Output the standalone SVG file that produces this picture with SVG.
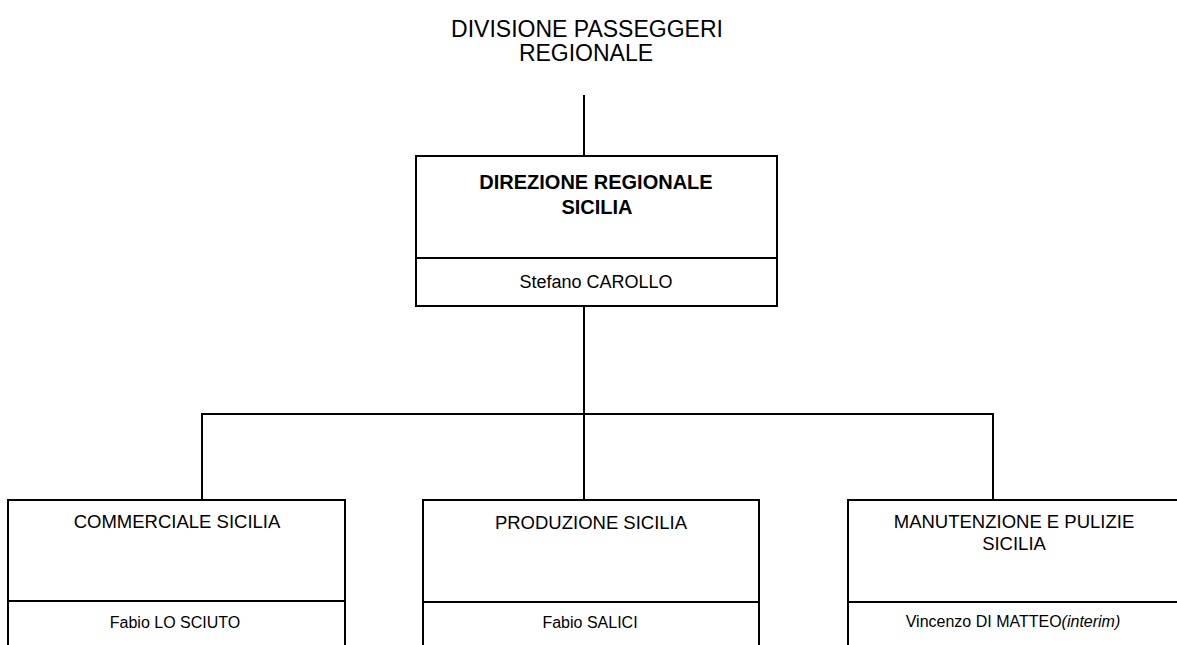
<svg xmlns="http://www.w3.org/2000/svg" width="1177" height="645" viewBox="0 0 1177 645">
<style>
.t{font-family:"Liberation Sans",Arial,sans-serif;fill:#000;text-anchor:middle}
.title{font-size:23px}
.h{font-size:18.5px}
.hb{font-size:20px;font-weight:bold}
.n{font-size:16px}
.nb{font-size:18px}
.box{fill:#fff;stroke:#000;stroke-width:2}
.ln{stroke:#000;stroke-width:2;fill:none}
</style>
<rect width="1177" height="645" fill="#fff"/>
<g id="title">
<text class="t title" x="587" y="36.5">DIVISIONE PASSEGGERI</text>
<text class="t title" x="586" y="61">REGIONALE</text>
</g>
<g id="connectors">
<line class="ln" x1="584" y1="95" x2="584" y2="156"/>
<line class="ln" x1="584" y1="306" x2="584" y2="414"/>
<line class="ln" x1="201" y1="414" x2="994" y2="414"/>
<line class="ln" x1="202" y1="414" x2="202" y2="500"/>
<line class="ln" x1="584" y1="414" x2="584" y2="500"/>
<line class="ln" x1="993" y1="414" x2="993" y2="500"/>
</g>
<g id="direzione">
<rect class="box" x="416" y="156" width="361" height="150"/>
<line class="ln" x1="416" y1="258" x2="777" y2="258"/>
<text class="t hb" x="596" y="189">DIREZIONE REGIONALE</text>
<text class="t hb" x="597" y="214">SICILIA</text>
<text class="t nb" x="596" y="288">Stefano CAROLLO</text>
</g>
<g id="commerciale">
<rect class="box" x="8" y="500" width="337" height="160"/>
<line class="ln" x1="8" y1="601" x2="345" y2="601"/>
<text class="t h" x="177" y="528">COMMERCIALE SICILIA</text>
<text class="t n" x="175" y="628">Fabio LO SCIUTO</text>
</g>
<g id="produzione">
<rect class="box" x="423" y="500" width="336" height="160"/>
<line class="ln" x1="423" y1="602" x2="759" y2="602"/>
<text class="t h" x="591" y="529">PRODUZIONE SICILIA</text>
<text class="t n" x="590" y="628">Fabio SALICI</text>
</g>
<g id="manutenzione">
<rect class="box" x="848" y="500" width="340" height="160"/>
<line class="ln" x1="848" y1="602" x2="1177" y2="602"/>
<text class="t h" x="1014" y="528">MANUTENZIONE E PULIZIE</text>
<text class="t h" x="1014" y="550">SICILIA</text>
<text class="t n" x="1013" y="627">Vincenzo DI MATTEO<tspan font-style="italic">(interim)</tspan></text>
</g>
</svg>
